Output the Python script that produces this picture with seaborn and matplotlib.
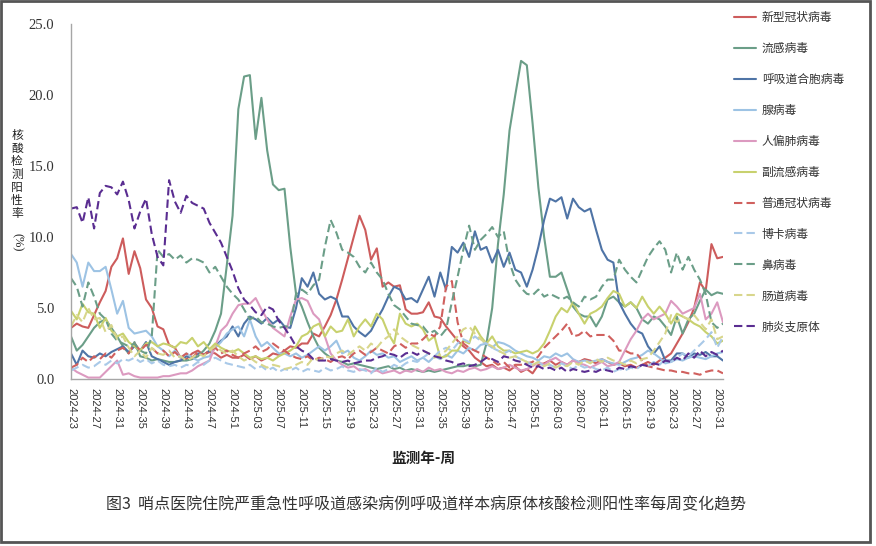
import numpy as np
import pandas as pd
import matplotlib
matplotlib.use("Agg")
import matplotlib.pyplot as plt
import seaborn as sns
from matplotlib.lines import Line2D
from matplotlib.patches import Rectangle

# ---------------- data ----------------
N_WEEKS = 114  # 2024-23 ... 2026-32
TICK_LABELS = ["2024-23", "2024-27", "2024-31", "2024-35", "2024-39", "2024-43",
               "2024-47", "2024-51", "2025-03", "2025-07", "2025-11", "2025-15",
               "2025-19", "2025-23", "2025-27", "2025-31", "2025-35", "2025-39",
               "2025-43", "2025-47", "2025-51", "2026-03", "2026-07", "2026-11",
               "2026-15", "2026-19", "2026-23", "2026-27", "2026-31"]

COVID = [3.6, 3.9, 3.7, 3.6, 4.5, 5.4, 6.2, 7.9, 8.5, 9.9,
         7.4, 9.0, 7.8, 5.6, 5.0, 3.7, 3.5, 2.4, 2.2, 1.5,
         1.4, 1.8, 2.0, 1.7, 1.9, 1.8, 1.5, 1.7, 1.5, 1.5,
         1.7, 1.4, 1.6, 1.3, 1.5, 1.8, 1.7, 2.0, 2.3, 2.2,
         2.5, 2.5, 3.2, 3.0, 3.7, 4.5, 5.6, 7.0, 8.5, 10.0,
         11.5, 10.5, 8.4, 9.2, 6.5, 6.8, 6.5, 6.6, 4.9, 4.6,
         4.6, 4.7, 5.4, 4.4, 4.3, 3.7, 3.2, 2.7, 2.3, 2.0,
         1.5, 1.2, 0.9, 1.0, 0.7, 0.8, 0.6, 0.9, 0.5, 0.7,
         0.4, 1.0, 1.1, 1.3, 1.0, 1.2, 1.0, 1.3, 1.2, 1.4,
         1.3, 1.1, 1.4, 1.2, 1.0, 1.1, 0.9, 1.0, 0.8, 1.0,
         1.2, 1.0, 1.3, 1.5, 1.8, 2.5, 3.2, 4.0, 5.0, 6.8,
         6.2, 9.5, 8.5, 8.6]
FLU = [3.0, 2.0, 2.4, 3.0, 3.6, 4.0, 4.2, 3.6, 3.0, 2.3,
       1.8, 2.6, 1.6, 1.5, 1.3, 1.4, 1.3, 1.2, 1.2, 1.3,
       1.3, 1.4, 1.6, 2.0, 2.5, 3.4, 4.6, 8.0, 11.5, 19.0,
       21.3, 21.4, 16.9, 19.8, 16.1, 13.7, 13.3, 13.4, 9.3, 6.0,
       5.1, 4.0, 3.0, 2.2, 1.8, 1.5, 1.3, 1.2, 1.0, 1.1,
       1.0, 0.9, 0.8, 0.7, 0.8, 0.9, 0.7, 0.8, 0.6, 0.7,
       0.6, 0.5, 0.6, 0.5, 0.6, 0.7, 0.8, 0.9, 0.9, 1.0,
       0.9, 1.0, 2.5, 5.0, 9.5, 13.0, 17.5, 20.0, 22.4, 22.1,
       18.0, 13.5, 10.0, 7.2, 7.2, 7.5, 6.3, 5.1, 4.6, 4.4,
       4.4, 3.7, 4.4, 5.6, 5.8, 5.4, 5.1, 5.4, 5.0, 4.2,
       3.9, 4.4, 4.2, 3.7, 3.1, 4.4, 3.2, 4.2, 4.6, 5.5,
       6.3, 5.9, 6.1, 6.0]
RSV = [1.8, 1.0, 2.0, 1.6, 1.5, 1.8, 1.6, 1.9, 2.1, 2.3,
       1.9, 2.3, 2.0, 2.6, 1.6, 1.4, 1.2, 1.0, 1.2, 1.3,
       1.6, 1.5, 1.8, 1.7, 2.0, 2.3, 2.7, 3.0, 3.7, 3.0,
       3.9, 4.4, 4.2, 3.9, 4.3, 3.9, 4.2, 3.7, 3.6, 5.0,
       7.1, 6.5, 7.5, 6.0, 5.6, 5.8, 5.6, 4.4, 4.4, 3.7,
       3.3, 3.0, 3.4, 4.2, 4.9, 5.8, 6.5, 6.3, 5.6, 5.7,
       5.4, 6.3, 7.2, 5.8, 7.5, 6.3, 9.3, 8.9, 9.6, 8.6,
       10.4, 9.1, 9.3, 8.2, 9.1, 7.9, 8.9, 7.7, 7.5, 6.5,
       7.7, 9.3, 11.2, 12.7, 12.5, 12.8, 11.3, 12.7, 12.1, 11.8,
       12.0, 10.5, 9.1, 8.4, 8.2, 5.4, 4.6, 3.9, 3.4, 3.2,
       2.3, 1.8, 2.3, 1.3, 1.3, 1.8, 1.8, 1.5, 1.8, 1.7,
       1.9, 1.6, 1.6, 1.3]
ADENO = [8.8, 8.2, 6.5, 8.2, 7.6, 7.6, 7.9, 6.3, 4.6, 5.5,
         3.6, 3.2, 3.3, 3.4, 3.0, 2.3, 2.0, 1.6, 2.0, 1.5,
         1.8, 1.5, 1.3, 1.5, 1.6, 2.2, 2.6, 3.2, 3.5, 3.7,
         3.0, 4.2, 3.0, 2.3, 2.6, 2.2, 1.8, 1.8, 1.6, 1.8,
         1.5, 1.7, 2.0, 2.3, 2.0, 2.3, 2.7, 1.8, 2.0, 1.5,
         1.3, 1.6, 2.0, 1.7, 1.8, 1.5, 1.6, 1.2, 1.4, 1.6,
         1.3, 1.5, 1.2, 1.6, 1.4, 1.7, 1.5, 2.0, 1.8, 2.2,
         2.0, 2.4, 2.5, 2.2, 2.6, 2.5, 2.3, 2.0, 1.8, 1.6,
         1.5, 1.3, 1.6, 1.5, 1.8, 1.6, 1.8, 1.4, 1.2, 1.3,
         1.2, 1.3, 1.4, 1.2, 1.1, 1.0, 1.2, 1.4, 1.5, 1.7,
         2.0, 1.8, 1.5, 1.1, 1.2, 1.4, 1.3, 1.5, 1.6, 1.5,
         1.4, 1.6, 1.8, 1.9]
HMPV = [0.8, 0.5, 0.3, 0.1, 0.1, 0.1, 0.5, 0.9, 1.3, 0.3,
        0.4, 0.2, 0.1, 0.1, 0.1, 0.1, 0.2, 0.2, 0.3, 0.4,
        0.4, 0.6, 0.9, 1.1, 1.3, 2.3, 3.4, 3.8, 4.6, 5.2,
        5.3, 5.3, 5.7, 4.9, 4.2, 3.6, 3.3, 3.0, 4.4, 5.6,
        5.7, 5.5, 4.6, 4.2, 3.0, 1.8, 1.3, 1.0, 0.8, 0.9,
        0.6, 0.7, 0.5, 0.6, 0.4, 0.5, 0.6, 0.4, 0.6, 0.5,
        0.7, 0.5, 0.8, 0.6, 0.7, 0.5, 0.4, 0.6, 0.5, 0.7,
        0.8, 0.6, 0.7, 0.9, 0.7, 0.8, 1.0, 0.8, 0.6, 0.7,
        0.9, 1.2, 1.0, 1.3, 1.5, 1.2, 1.0, 1.3, 1.1, 1.0,
        0.8, 1.0, 1.2, 0.9, 1.0, 1.2, 2.0, 2.8, 3.4, 4.2,
        4.6, 4.2, 4.4, 4.6, 5.5, 5.1, 4.6, 4.8, 5.0, 6.0,
        4.2, 4.6, 5.4, 4.0]
PARAFLU = [4.8, 4.2, 5.3, 4.7, 4.6, 3.6, 4.3, 3.4, 3.0, 3.2,
           2.6, 2.3, 2.0, 2.5, 2.6, 2.3, 2.5, 2.4, 2.2, 2.6,
           2.5, 2.9, 2.3, 2.6, 2.1, 2.5, 2.2, 2.0, 1.9, 2.1,
           1.8, 1.5, 1.6, 1.4, 1.5, 1.3, 1.6, 1.8, 2.0, 2.3,
           3.0, 3.2, 3.7, 3.9, 3.0, 3.7, 3.3, 3.4, 4.2, 3.0,
           3.7, 4.2, 3.7, 4.6, 4.2, 3.2, 2.5, 4.6, 3.9, 3.7,
           3.9, 3.5, 2.7, 3.0, 1.5, 1.6, 2.0, 2.0, 2.7, 2.5,
           3.7, 3.0, 2.5, 3.0, 2.3, 2.0, 2.0, 1.8, 1.9, 2.0,
           1.8, 2.0, 2.5, 3.4, 4.4, 5.0, 4.7, 5.4, 4.6, 3.9,
           4.6, 4.8, 5.1, 5.7, 6.2, 6.0, 5.1, 5.4, 5.0, 5.8,
           5.1, 4.6, 5.1, 4.6, 3.9, 4.6, 4.4, 4.2, 3.9, 3.7,
           3.3, 3.0, 2.5, 2.7]
HCOV = [0.8, 1.0, 1.5, 1.2, 1.6, 1.4, 1.8, 1.5, 2.0, 2.2,
        1.8, 2.5, 2.0, 2.4, 2.2, 1.8, 2.0, 1.6, 1.9, 1.5,
        1.8, 1.5, 1.9, 1.7, 2.0, 2.2, 1.8, 2.0, 1.7, 1.5,
        1.8, 2.0, 2.3, 1.9, 2.1, 2.5, 2.2, 2.0, 1.7, 1.5,
        1.4, 1.6, 1.3, 1.5, 1.4, 1.2, 1.5, 1.6, 1.4, 1.8,
        2.0, 1.7, 1.9, 2.2, 2.0, 1.8, 2.3, 2.5, 2.2, 2.5,
        2.5, 2.8, 3.2, 3.0, 3.7, 6.5, 6.9, 4.0, 2.5, 2.2,
        2.0, 1.8, 1.5, 1.3, 1.0, 1.2, 0.8, 1.0, 1.0, 1.1,
        1.2, 1.6, 2.2, 2.6, 3.0, 3.4, 3.9, 3.0, 3.1, 3.4,
        3.0, 3.1, 3.1, 3.1, 2.7, 2.0, 2.0, 1.8, 1.8, 1.3,
        0.9, 0.8, 0.7, 0.6, 0.6, 0.5, 0.5, 0.4, 0.4, 0.3,
        0.5, 0.6, 0.6, 0.4]
BOCA = [0.6, 0.8, 1.0, 0.8, 0.9, 1.2, 1.0, 1.3, 1.1, 1.4,
        1.3, 1.5, 1.2, 1.4, 1.1, 1.3, 1.0, 0.9, 1.0, 0.8,
        1.0, 0.9, 1.2, 1.0, 1.3, 1.5, 1.3, 1.1, 1.0, 0.9,
        0.8, 1.0, 0.7, 0.9, 0.6, 0.8, 0.5, 0.7, 0.6, 0.8,
        0.5, 0.7, 0.6, 0.5, 0.8, 0.6, 0.7, 0.9, 0.6, 0.5,
        0.7, 0.6, 0.4, 0.8, 0.5, 0.7, 1.0, 0.8, 1.1, 1.3,
        1.2, 1.5, 1.8, 1.6, 2.0, 2.2, 2.0, 2.5, 2.8, 2.6,
        3.0, 2.7, 2.5, 2.2, 2.0, 1.8, 2.0, 1.6, 1.4, 1.2,
        1.0, 1.2, 0.9, 1.0, 0.8, 1.1, 0.9, 0.7, 1.0, 0.8,
        0.9, 0.7, 0.6, 0.8, 0.5, 0.7, 0.6, 0.8, 0.7, 1.0,
        0.9, 1.2, 1.0, 1.4, 1.2, 1.5, 1.8, 1.6, 2.0, 2.4,
        2.8, 3.3, 2.2, 3.0]
RHINO = [7.1, 6.5, 5.1, 6.8, 5.8, 4.6, 4.2, 3.2, 2.7, 2.5,
         2.3, 2.5, 2.0, 1.8, 3.0, 9.1, 8.6, 8.8, 8.4, 8.7,
         8.2, 8.5, 8.4, 8.2, 7.5, 7.9, 7.2, 6.5, 6.0, 5.6,
         4.9, 4.2, 4.4, 4.0, 3.9, 3.7, 3.6, 3.7, 3.7, 6.0,
         6.3, 6.0, 6.6, 7.0, 9.3, 11.2, 10.3, 9.1, 8.9, 8.6,
         7.9, 7.5, 8.2, 7.5, 7.0, 6.0, 5.2, 4.9, 4.4, 3.9,
         3.8, 3.7, 3.2, 3.4, 3.0, 3.5, 5.4, 7.2, 9.1, 10.8,
         9.1, 9.8, 10.2, 10.7, 10.0, 10.4, 8.2, 7.0, 6.4, 6.0,
         5.9, 6.3, 5.8, 6.0, 5.8, 5.6, 5.8, 5.4, 5.1, 5.8,
         5.6, 5.8, 6.5, 7.0, 7.0, 8.4, 7.7, 7.2, 6.8, 7.7,
         8.6, 9.2, 9.7, 9.1, 7.5, 8.9, 7.7, 8.6, 7.7, 7.0,
         6.0, 4.0, 3.6, 3.9]
ENTERO = [3.7, 4.5, 4.0, 5.0, 4.2, 4.3, 3.3, 3.8, 2.8, 3.0,
          2.2, 1.6, 2.0, 1.5, 2.2, 1.8, 1.7, 2.0, 1.5, 1.6,
          1.3, 1.5, 1.8, 1.6, 2.0, 2.3, 2.0, 1.8, 2.0, 1.6,
          1.3, 1.5, 1.2, 1.0, 0.8, 1.0, 0.9, 0.7, 0.8, 1.0,
          1.2, 1.0, 1.5, 1.3, 1.6, 1.5, 1.8, 2.0, 1.7, 2.0,
          2.3, 2.0, 2.5, 2.2, 2.7, 3.0, 3.5, 3.0, 2.7, 2.4,
          2.2, 2.0, 1.8, 1.5, 1.7, 2.0, 2.5, 3.0, 3.5, 3.7,
          3.2, 2.8, 2.5, 2.3, 2.0, 1.8, 1.5, 1.6, 1.4, 1.2,
          1.0, 1.2, 0.9, 1.1, 0.8, 1.0, 0.9, 1.2, 1.0, 1.3,
          1.1, 1.4, 1.2, 1.5, 1.3, 1.2, 1.0, 1.3, 1.1, 1.4,
          1.5, 2.0, 2.6, 3.2, 4.5, 4.0, 4.4, 4.2, 4.5, 4.0,
          3.5, 4.2, 2.8, 3.0]
MYCO = [12.0, 12.1, 11.0, 12.8, 10.6, 13.1, 13.6, 13.5, 13.0, 13.9,
        12.6, 10.6, 11.8, 12.7, 10.2, 8.6, 8.0, 14.0, 12.5, 11.7,
        12.9, 12.4, 12.2, 12.0, 11.0, 10.3, 9.6, 8.6, 7.6, 6.4,
        5.6, 5.2, 4.7, 4.5, 5.1, 4.9, 4.1, 3.6, 3.0, 2.3,
        2.0, 1.8, 1.4, 1.3, 1.3, 1.4, 1.3, 1.2, 1.3, 1.1,
        1.2, 1.3, 1.3, 1.5, 1.6, 1.8, 1.7, 1.5, 1.8, 1.9,
        1.7, 2.0, 1.8, 1.6, 1.5, 1.3, 1.2, 1.0, 1.1, 0.9,
        1.0, 1.2, 1.5, 1.4, 1.2, 1.6, 1.5, 1.3, 1.2, 1.0,
        0.8, 0.9, 0.7, 0.8, 0.6, 0.8, 0.5, 0.7, 0.6, 0.5,
        0.6, 0.5, 0.7, 0.6, 0.5, 0.8, 0.7, 0.9, 0.8, 1.0,
        0.9, 1.1, 1.0, 1.3, 1.2, 1.5, 1.3, 1.8, 1.5, 2.0,
        1.6, 1.9, 1.7, 2.0]

PATHOGENS = ["新型冠状病毒", "流感病毒", "呼吸道合胞病毒", "腺病毒", "人偏肺病毒",
             "副流感病毒", "普通冠状病毒", "博卡病毒", "鼻病毒", "肠道病毒", "肺炎支原体"]
SERIES = [COVID, FLU, RSV, ADENO, HMPV, PARAFLU, HCOV, BOCA, RHINO, ENTERO, MYCO]
COLORS = ["#cd5c5c", "#6b9e88", "#4f74a6", "#9dc3e4", "#dc9ac0", "#c8d16e",
          "#d0605e", "#a9c9e8", "#6b9e88", "#d8d68c", "#5a2d91"]
DASHED = [False, False, False, False, False, False, True, True, True, True, True]

XLABEL = "监测年-周"
YLABEL_CHARS = ["核", "酸", "检", "测", "阳", "性", "率"]
YLABEL_UNIT = "(%)"
CAPTION = "图3  哨点医院住院严重急性呼吸道感染病例呼吸道样本病原体核酸检测阳性率每周变化趋势"

# ---------------- style ----------------
sns.set_style("white")
plt.rcParams['font.family'] = ['Noto Sans CJK SC', 'DejaVu Sans']

W, H = 876, 546
fig = plt.figure(figsize=(W / 100, H / 100), dpi=100)
fig.patch.set_facecolor("white")

def fx(px):
    return px / W

def fy(py):
    return 1 - py / H

ax = fig.add_axes([fx(71), fy(379), fx(723) - fx(71), fy(24) - fy(379)])

rows = []
for name, vals in zip(PATHOGENS, SERIES):
    for i, v in enumerate(vals):
        rows.append((i, v, name))
df = pd.DataFrame(rows, columns=["week", "rate", "pathogen"])

palette = dict(zip(PATHOGENS, COLORS))
dashes = {p: ((4, 2) if d else "") for p, d in zip(PATHOGENS, DASHED)}

sns.lineplot(data=df, x="week", y="rate", hue="pathogen", style="pathogen",
             hue_order=PATHOGENS, style_order=PATHOGENS, palette=palette,
             dashes=dashes, linewidth=1.5, ax=ax, legend=False)

ax.set_xlim(0, N_WEEKS - 1)
ax.set_ylim(0, 25)
ax.set_xlabel("")
ax.set_ylabel("")

axis_col = "#a6a6a6"
for s in ["top", "right"]:
    ax.spines[s].set_visible(False)
for s in ["left", "bottom"]:
    ax.spines[s].set_color(axis_col)
    ax.spines[s].set_linewidth(1.0)

yt = np.arange(0, 26, 5)
ax.set_yticks(yt)
ax.set_yticklabels([f"{v:.1f}" for v in yt], fontfamily="Liberation Serif",
                   fontsize=10.5, color="#333333")
ax.tick_params(axis="y", length=4, width=0.8, color=axis_col, direction="out", pad=8)

xt = list(range(N_WEEKS))
xl = [""] * N_WEEKS
for k, lab in enumerate(TICK_LABELS):
    xl[4 * k] = lab
ax.set_xticks(xt)
ax.set_xticklabels(xl, rotation=-90, fontfamily="Liberation Sans", fontsize=8,
                   color="#333333", ha="center", va="top")
ax.tick_params(axis="x", length=3.5, width=0.8, color=axis_col, direction="out", pad=3)

# y label (stacked vertical characters)
for k, ch in enumerate(YLABEL_CHARS):
    fig.text(fx(17), fy(135 + 13.1 * k), ch, ha="center", va="center",
             fontsize=8.5, color="#222222")
fig.text(fx(17), fy(242), YLABEL_UNIT, ha="center", va="center", rotation=-90,
         fontsize=9, color="#222222", fontfamily="Liberation Serif")

fig.text(fx(423), fy(458), XLABEL, ha="center", va="center", fontsize=10.5,
         fontweight="bold", color="#222222")
fig.text(fx(426), fy(505), CAPTION, ha="center", va="center", fontsize=11.5,
         color="#333333")

# legend
handles = []
for c, d in zip(COLORS, DASHED):
    h = Line2D([0], [0], color=c, lw=1.5)
    if d:
        h.set_dashes((4, 2))
    handles.append(h)
leg = fig.legend(handles, PATHOGENS, loc="upper left",
                 bbox_to_anchor=(fx(734), fy(11)), frameon=False, fontsize=8.5,
                 handlelength=1.9, handletextpad=0.45, labelspacing=1.52,
                 borderpad=0, borderaxespad=0)
for t in leg.get_texts():
    t.set_color("#333333")

# figure border
fig.patches.append(Rectangle((fx(1), fy(542)), fx(870) - fx(1), fy(1) - fy(542),
                             transform=fig.transFigure, fill=False,
                             edgecolor="#555555", linewidth=2.0))

fig.savefig("out.png", dpi=100, facecolor="white")
